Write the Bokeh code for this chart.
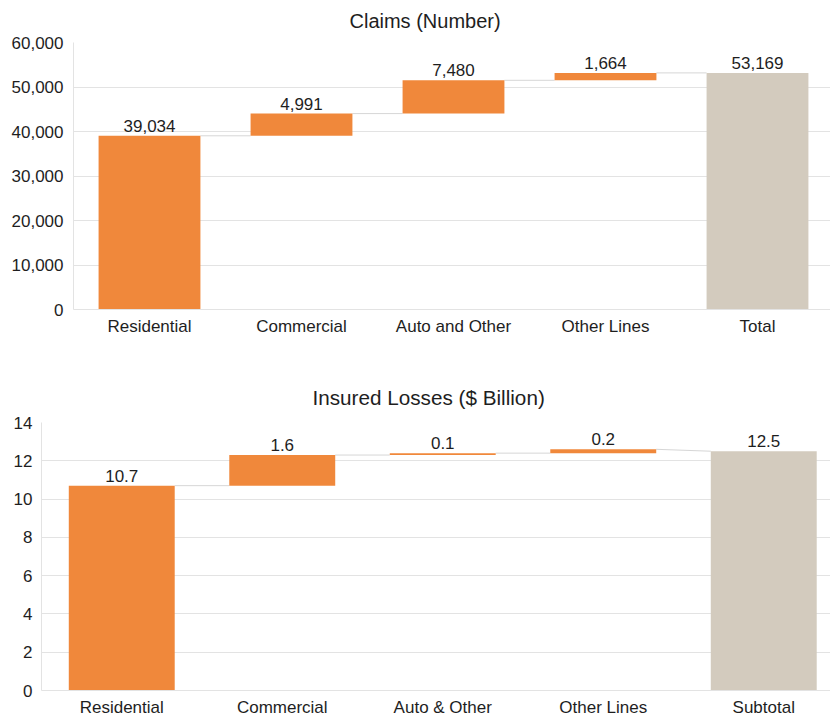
from bokeh.plotting import figure
from bokeh.layouts import column
from bokeh.models import ColumnDataSource, FixedTicker, NumeralTickFormatter, Range1d
from bokeh.core.properties import value
from bokeh.embed import file_html
from bokeh.resources import INLINE

# Claims by line of business (count)
claims_categories = ["Residential", "Commercial", "Auto and Other", "Other Lines", "Total"]
claims_steps = [39034, 4991, 7480, 1664]
claims_total = 53169
claims_ticks = [0, 10000, 20000, 30000, 40000, 50000, 60000]

# Insured losses by line of business ($ billion)
loss_categories = ["Residential", "Commercial", "Auto & Other", "Other Lines", "Subtotal"]
loss_steps = [10.7, 1.6, 0.1, 0.2]
loss_total = 12.5
loss_ticks = [0, 2, 4, 6, 8, 10, 12, 14]

FONT = "Liberation Sans"
ORANGE = "#F0883B"
TOTAL_COLOR = "#D3CBBE"
TEXT = "#1e1e1e"
GRID = "#E3E3E3"
CONNECTOR = "#D6D6D6"


def waterfall(title, cats, steps, total, fmt, ticks, tick_fmt, *, width, height,
              border_left, border_top, border_bottom, x_end, bar_w,
              title_offset, title_size, title_standoff, y_standoff):
    bottoms, tops = [], []
    run = 0.0
    for s in steps:
        bottoms.append(run)
        run += s
        tops.append(run)
    bottoms.append(0)
    tops.append(total)
    xs = list(range(len(cats)))
    colors = [ORANGE] * len(steps) + [TOTAL_COLOR]
    labels = [fmt(s) for s in steps] + [fmt(total)]

    src = ColumnDataSource(dict(x=xs, bottom=bottoms, top=tops, color=colors, label=labels))

    p = figure(width=width, height=height, output_backend="svg", toolbar_location=None,
               x_range=Range1d(-0.5, x_end), y_range=Range1d(ticks[0], ticks[-1]),
               min_border_left=border_left, min_border_right=0,
               min_border_top=border_top, min_border_bottom=border_bottom)
    p.frame_align = False
    p.outline_line_color = None
    p.background_fill_color = "white"
    p.border_fill_color = "white"

    # connectors between consecutive bars
    cx0, cx1, cy0, cy1 = [], [], [], []
    for i in range(len(cats) - 1):
        cx0.append(xs[i] + bar_w / 2)
        cx1.append(xs[i + 1] - bar_w / 2)
        cy0.append(tops[i])
        cy1.append(bottoms[i + 1] if i + 1 < len(steps) else tops[i + 1])
    p.segment(x0=cx0, y0=cy0, x1=cx1, y1=cy1, line_color=CONNECTOR, line_width=1)

    p.vbar(x="x", bottom="bottom", top="top", width=bar_w, fill_color="color",
           line_color=None, source=src)

    p.text(x="x", y="top", text="label", source=src, text_align="center",
           text_baseline="bottom", y_offset=-4, text_color=TEXT,
           text_font=value(FONT), text_font_size="17px")

    p.title.text = title
    p.title.align = "left"
    p.title.offset = title_offset
    p.title.vertical_align = "top"
    p.title.standoff = title_standoff
    p.title.text_font = FONT
    p.title.text_font_size = title_size
    p.title.text_font_style = "normal"
    p.title.text_color = TEXT

    xa = p.xaxis[0]
    xa.ticker = FixedTicker(ticks=xs)
    xa.major_label_overrides = {i: c for i, c in zip(xs, cats)}
    xa.major_tick_out = 0
    xa.major_tick_in = 0
    xa.minor_tick_out = 0
    xa.minor_tick_in = 0
    xa.major_tick_line_color = None
    xa.minor_tick_line_color = None
    xa.axis_line_color = GRID
    xa.major_label_text_font = FONT
    xa.major_label_text_font_size = "17px"
    xa.major_label_text_color = TEXT
    xa.major_label_standoff = 7

    ya = p.yaxis[0]
    ya.ticker = FixedTicker(ticks=ticks)
    ya.formatter = tick_fmt
    ya.major_tick_out = 0
    ya.major_tick_in = 0
    ya.minor_tick_out = 0
    ya.minor_tick_in = 0
    ya.major_tick_line_color = None
    ya.minor_tick_line_color = None
    ya.axis_line_color = GRID
    ya.major_label_text_font = FONT
    ya.major_label_text_font_size = "17px"
    ya.major_label_text_color = TEXT
    ya.major_label_standoff = y_standoff

    p.xgrid.grid_line_color = None
    p.ygrid.grid_line_color = GRID
    p.ygrid.ticker = FixedTicker(ticks=ticks)
    return p


top = waterfall("Claims (Number)", claims_categories, claims_steps, claims_total,
                lambda v: f"{v:,.0f}", claims_ticks, NumeralTickFormatter(format="0,0"),
                width=830, height=360, border_left=73, border_top=42, border_bottom=51,
                x_end=-0.5 + 757 / 152, bar_w=0.67,
                title_offset=276, title_size="20px", title_standoff=17, y_standoff=10)

bottom = waterfall("Insured Losses ($ Billion)", loss_categories, loss_steps, loss_total,
                   lambda v: f"{v:.1f}", loss_ticks, NumeralTickFormatter(format="0"),
                   width=830, height=359, border_left=41, border_top=62, border_bottom=29,
                   x_end=-0.5 + 789 / 160.5, bar_w=0.66,
                   title_offset=271, title_size="20.7px", title_standoff=23, y_standoff=9)

layout = column(top, bottom, spacing=0)
open("out.html", "w").write(file_html(layout, INLINE))
